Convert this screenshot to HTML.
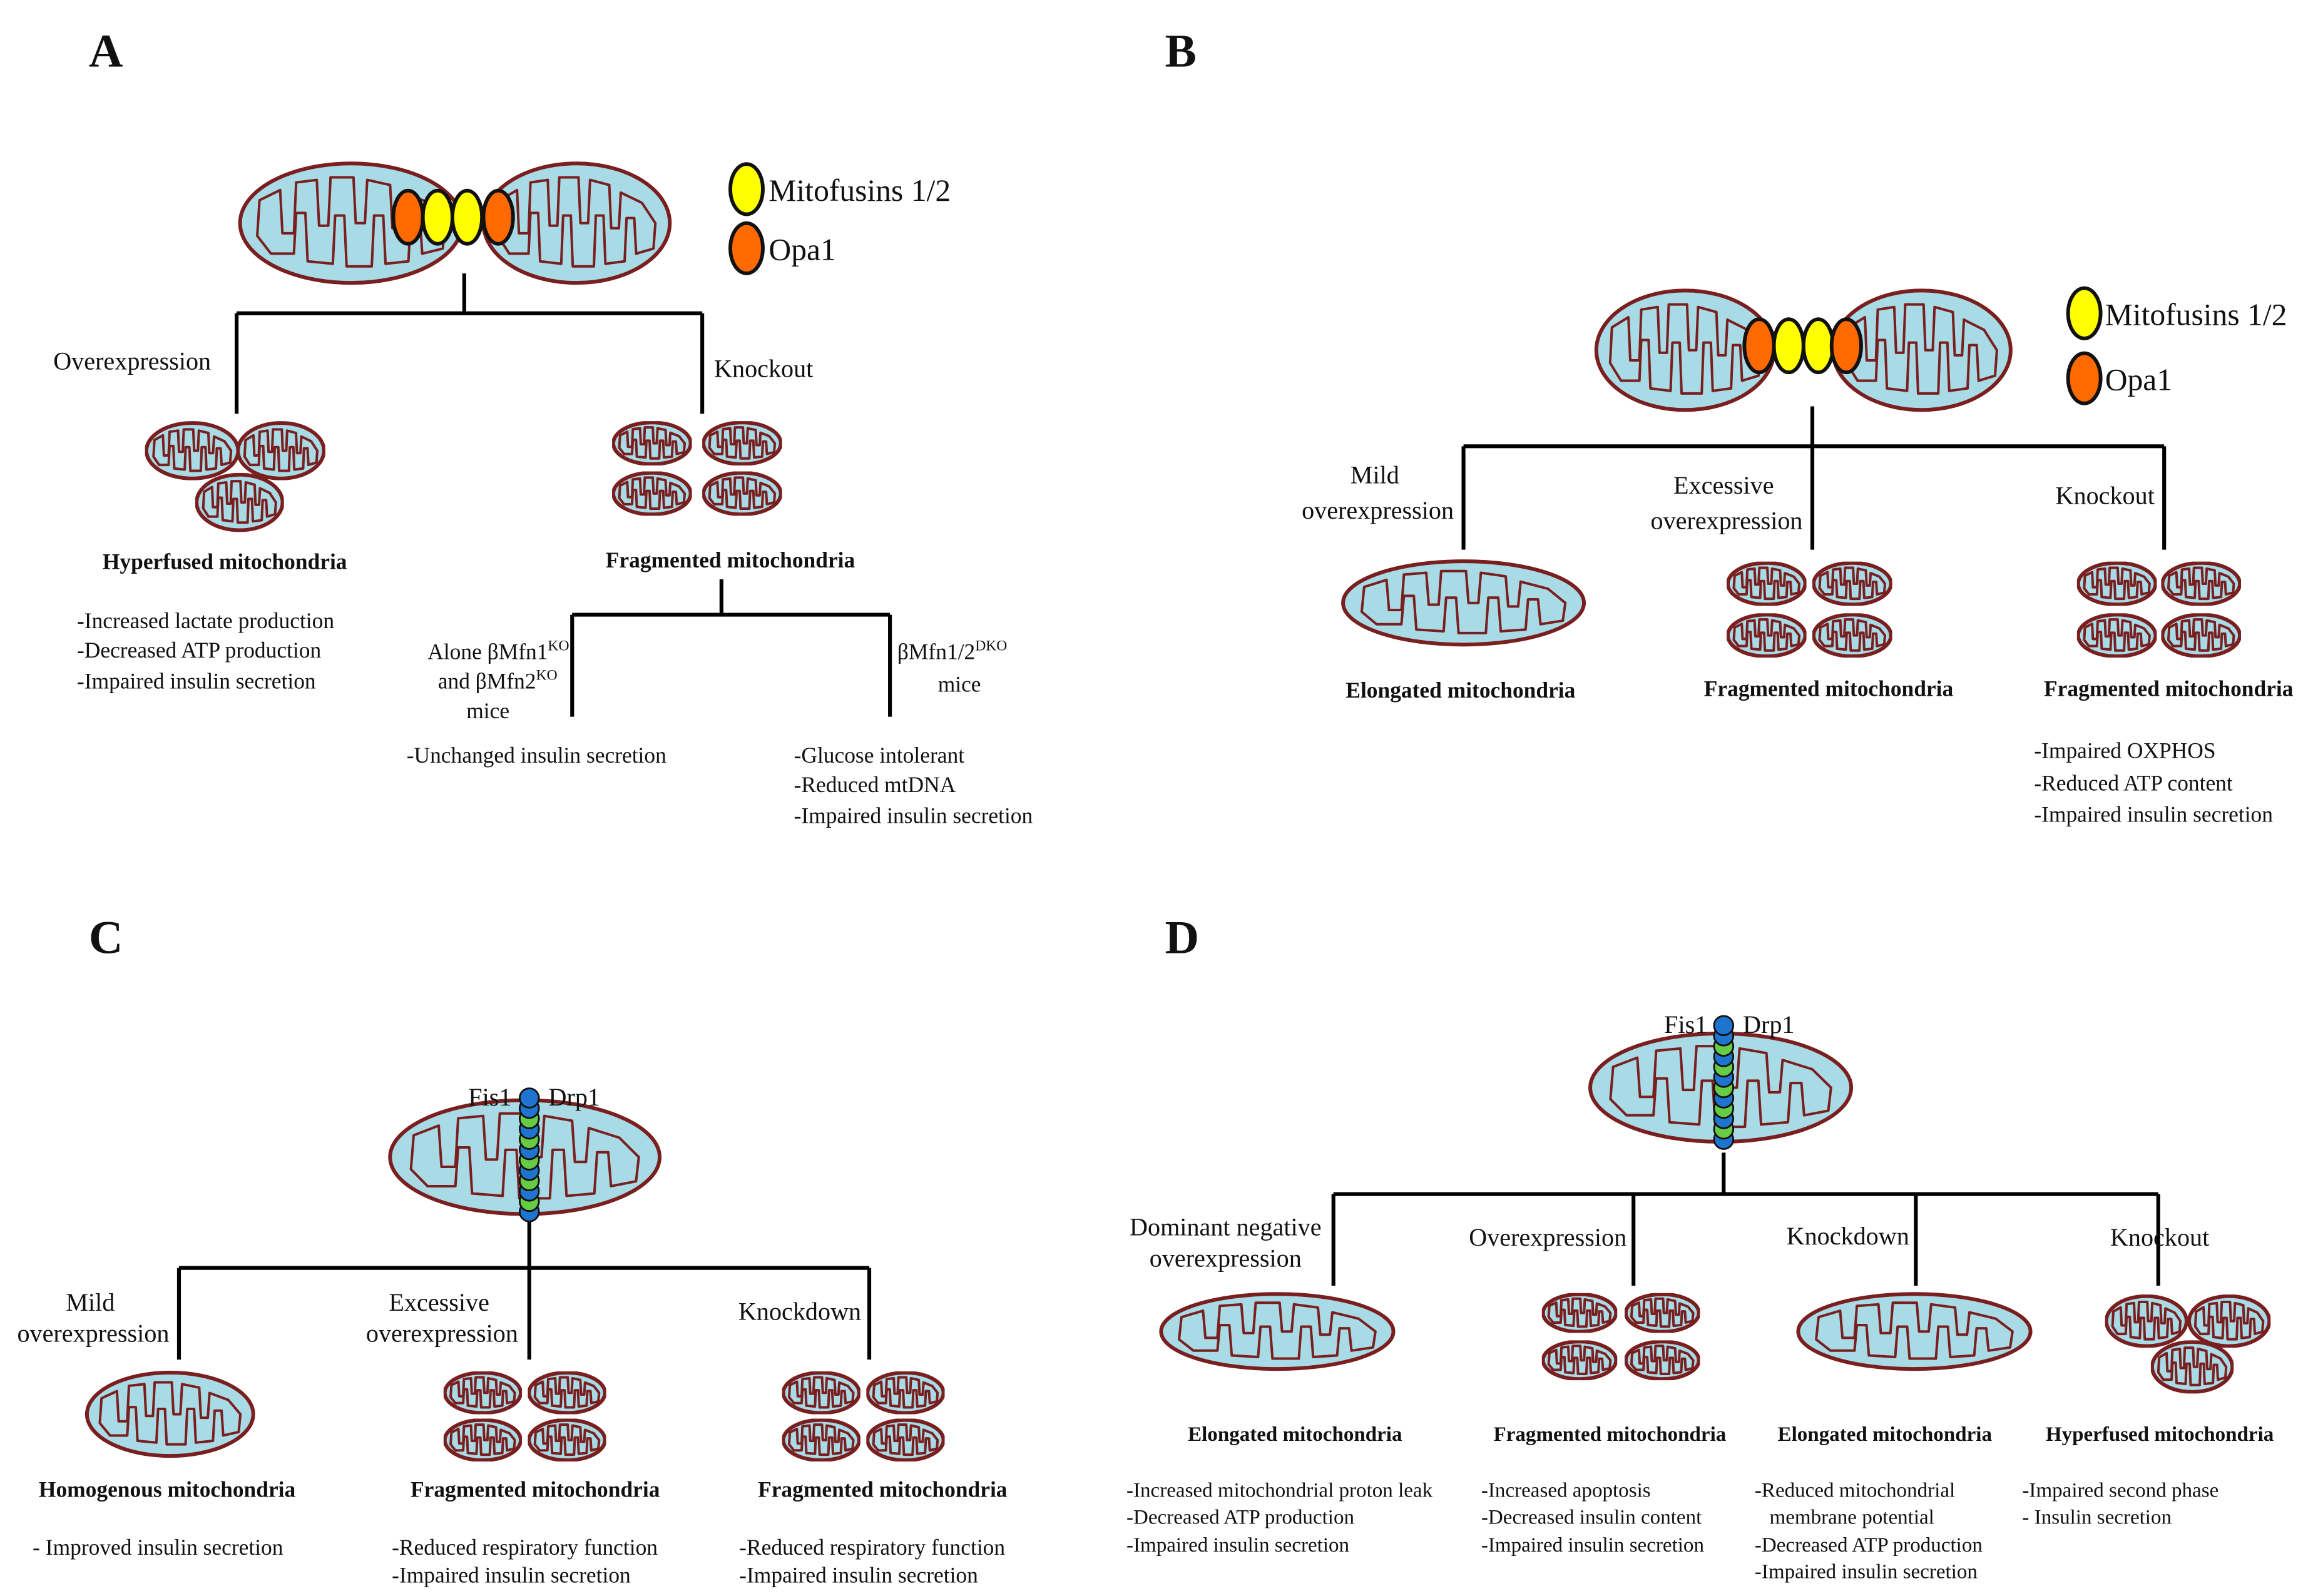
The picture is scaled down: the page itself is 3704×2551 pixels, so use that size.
<!DOCTYPE html>
<html><head><meta charset="utf-8"><style>
html,body{margin:0;padding:0;background:#fff}
svg{display:block}
text{font-family:"Liberation Serif",serif;fill:#111}
.b{font-weight:bold}
.L{font-weight:bold;font-size:32px}
.t{font-size:17px}
.s{font-size:15px}
.h{font-size:15px;font-weight:bold}
</style></head><body>
<svg width="3704" height="2551" viewBox="0 0 1568 1080" xmlns="http://www.w3.org/2000/svg" xml:space="preserve">
<defs>
<symbol id="m" viewBox="-100 -50 200 100" preserveAspectRatio="none">
<ellipse cx="0" cy="0" rx="97" ry="47" fill="#a8dbe6" stroke="#7a1f1f" stroke-width="6" vector-effect="non-scaling-stroke"/>
<path d="M-82,10 L-80,-18 L-62,-26 L-60,8 L-50,8 L-48,-32 L-30,-34 L-28,2 L-20,2 L-18,-36 L2,-36 L4,0 L12,0 L14,-34 L34,-30 L36,4 L44,4 L46,-24 L68,-16 L82,0 L80,20 L62,24 L60,-4 L52,-4 L50,30 L30,32 L28,-6 L20,-6 L18,34 L-4,34 L-6,-6 L-14,-6 L-16,32 L-38,30 L-40,-8 L-48,-8 L-50,24 L-70,24 Z" fill="none" stroke="#7a1f1f" stroke-width="4" stroke-linejoin="round" vector-effect="non-scaling-stroke"/>
</symbol>
</defs>
<g stroke="#000" stroke-width="2.6" fill="none">
<path d="M314,185V212M160,212H475M160,212V280M475,212V280"/>
<path d="M488,392V416M387,416H602M387,416V485M602,416V485"/>
<path d="M1226,275V302M990,302H1464M990,302V372M1226,302V372M1464,302V372"/>
<path d="M358,825V858M121,858H588M121,858V920M358,858V920M588,858V920"/>
<path d="M1166,780V808M902,808H1460M902,808V870M1105,808V870M1296,808V870M1460,808V870"/>
</g>

<text class="L" x="60" y="45">A</text>
<text class="L" x="788" y="45">B</text>
<text class="L" x="60" y="645">C</text>
<text class="L" x="788" y="645">D</text>

<!-- Panel A -->
<use href="#m" x="160" y="108" width="155" height="86"/>
<use href="#m" x="325" y="108" width="130" height="86"/>
<g stroke="#111" stroke-width="2.5">
<ellipse cx="276" cy="147" rx="10" ry="18" fill="#ff6a00"/>
<ellipse cx="296" cy="147" rx="10" ry="18" fill="#ffff00"/>
<ellipse cx="316" cy="147" rx="10" ry="18" fill="#ffff00"/>
<ellipse cx="337" cy="147" rx="10" ry="18" fill="#ff6a00"/>
<ellipse cx="505" cy="128" rx="11" ry="17" fill="#ffff00"/>
<ellipse cx="505" cy="168" rx="11" ry="17" fill="#ff6a00"/>
</g>
<text x="520" y="136" style="font-size:21px">Mitofusins 1/2</text>
<text x="520" y="176" style="font-size:21px">Opa1</text>
<text class="t" x="36" y="250">Overexpression</text>
<text class="t" x="483" y="255">Knockout</text>
<use href="#m" x="98" y="285" width="64" height="40"/>
<use href="#m" x="160" y="285" width="60" height="40"/>
<use href="#m" x="132" y="320" width="60" height="40"/>
<use href="#m" x="414" y="285" width="54" height="30"/>
<use href="#m" x="475" y="285" width="54" height="30"/>
<use href="#m" x="414" y="319" width="54" height="30"/>
<use href="#m" x="475" y="319" width="54" height="30"/>
<text class="h" x="152" y="385" text-anchor="middle">Hyperfused mitochondria</text>
<text class="h" x="494" y="384" text-anchor="middle">Fragmented mitochondria</text>
<text class="s" x="52" y="425">-Increased lactate production</text>
<text class="s" x="52" y="445">-Decreased ATP production</text>
<text class="s" x="52" y="466">-Impaired insulin secretion</text>
<text class="s" x="385" y="446" text-anchor="end">Alone βMfn1<tspan dy="-6" style="font-size:10px">KO</tspan></text>
<text class="s" x="377" y="466" text-anchor="end">and βMfn2<tspan dy="-6" style="font-size:10px">KO</tspan></text>
<text class="s" x="330" y="486" text-anchor="middle">mice</text>
<text class="s" x="607" y="446">βMfn1/2<tspan dy="-6" style="font-size:10px">DKO</tspan></text>
<text class="s" x="649" y="468" text-anchor="middle">mice</text>
<text class="s" x="275" y="516">-Unchanged insulin secretion</text>
<text class="s" x="537" y="516">-Glucose intolerant</text>
<text class="s" x="537" y="536">-Reduced mtDNA</text>
<text class="s" x="537" y="557">-Impaired insulin secretion</text>

<!-- Panel B -->
<use href="#m" x="1078" y="194" width="124" height="86"/>
<use href="#m" x="1238" y="194" width="124" height="86"/>
<g stroke="#111" stroke-width="2.5">
<ellipse cx="1190" cy="234" rx="10" ry="18" fill="#ff6a00"/>
<ellipse cx="1210" cy="234" rx="10" ry="18" fill="#ffff00"/>
<ellipse cx="1230" cy="234" rx="10" ry="18" fill="#ffff00"/>
<ellipse cx="1249" cy="234" rx="10" ry="18" fill="#ff6a00"/>
<ellipse cx="1410" cy="212" rx="11" ry="17" fill="#ffff00"/>
<ellipse cx="1410" cy="256" rx="11" ry="17" fill="#ff6a00"/>
</g>
<text x="1424" y="220" style="font-size:21px">Mitofusins 1/2</text>
<text x="1424" y="264" style="font-size:21px">Opa1</text>
<text class="t" x="930" y="327" text-anchor="middle">Mild</text>
<text class="t" x="932" y="351" text-anchor="middle">overexpression</text>
<text class="t" x="1166" y="334" text-anchor="middle">Excessive</text>
<text class="t" x="1168" y="358" text-anchor="middle">overexpression</text>
<text class="t" x="1424" y="341" text-anchor="middle">Knockout</text>
<use href="#m" x="906" y="378" width="168" height="60"/>
<use href="#m" x="1168" y="380" width="54" height="30"/>
<use href="#m" x="1226" y="380" width="54" height="30"/>
<use href="#m" x="1168" y="415" width="54" height="30"/>
<use href="#m" x="1226" y="415" width="54" height="30"/>
<use href="#m" x="1405" y="380" width="54" height="30"/>
<use href="#m" x="1462" y="380" width="54" height="30"/>
<use href="#m" x="1405" y="415" width="54" height="30"/>
<use href="#m" x="1462" y="415" width="54" height="30"/>
<text class="h" x="988" y="472" text-anchor="middle">Elongated mitochondria</text>
<text class="h" x="1237" y="471" text-anchor="middle">Fragmented mitochondria</text>
<text class="h" x="1467" y="471" text-anchor="middle">Fragmented  mitochondria</text>
<text class="s" x="1376" y="513">-Impaired OXPHOS</text>
<text class="s" x="1376" y="535">-Reduced ATP content</text>
<text class="s" x="1376" y="556">-Impaired insulin secretion</text>

<!-- Panel C -->
<use href="#m" x="261" y="742" width="188" height="82"/>
<g stroke="#111" stroke-width="1.2">
<circle cx="358" cy="820" r="6.5" fill="#1f74d0"/><circle cx="358" cy="813" r="6.5" fill="#66cc44"/>
<circle cx="358" cy="806" r="6.5" fill="#1f74d0"/><circle cx="358" cy="799" r="6.5" fill="#66cc44"/>
<circle cx="358" cy="792" r="6.5" fill="#1f74d0"/><circle cx="358" cy="785" r="6.5" fill="#66cc44"/>
<circle cx="358" cy="778" r="6.5" fill="#1f74d0"/><circle cx="358" cy="771" r="6.5" fill="#66cc44"/>
<circle cx="358" cy="764" r="6.5" fill="#1f74d0"/><circle cx="358" cy="757" r="6.5" fill="#66cc44"/>
<circle cx="358" cy="750" r="6.5" fill="#1f74d0"/><circle cx="358" cy="743" r="6.5" fill="#1f74d0"/>
</g>
<text class="t" x="346" y="748" text-anchor="end">Fis1</text>
<text class="t" x="371" y="748">Drp1</text>
<text class="t" x="61" y="887" text-anchor="middle">Mild</text>
<text class="t" x="63" y="908" text-anchor="middle">overexpression</text>
<text class="t" x="297" y="887" text-anchor="middle">Excessive</text>
<text class="t" x="299" y="908" text-anchor="middle">overexpression</text>
<text class="t" x="541" y="893" text-anchor="middle">Knockdown</text>
<use href="#m" x="57" y="927" width="116" height="60"/>
<use href="#m" x="300" y="928" width="53" height="29"/>
<use href="#m" x="357" y="928" width="53" height="29"/>
<use href="#m" x="300" y="960" width="53" height="29"/>
<use href="#m" x="357" y="960" width="53" height="29"/>
<use href="#m" x="529" y="928" width="53" height="29"/>
<use href="#m" x="586" y="928" width="53" height="29"/>
<use href="#m" x="529" y="960" width="53" height="29"/>
<use href="#m" x="586" y="960" width="53" height="29"/>
<text class="h" x="113" y="1013" text-anchor="middle">Homogenous mitochondria</text>
<text class="h" x="362" y="1013" text-anchor="middle">Fragmented mitochondria</text>
<text class="h" x="597" y="1013" text-anchor="middle">Fragmented mitochondria</text>
<text class="s" x="22" y="1052">- Improved insulin secretion</text>
<text class="s" x="265" y="1052">-Reduced respiratory function</text>
<text class="s" x="265" y="1071">-Impaired insulin secretion</text>
<text class="s" x="500" y="1052">-Reduced respiratory function</text>
<text class="s" x="500" y="1071">-Impaired insulin secretion</text>

<!-- Panel D -->
<use href="#m" x="1073" y="697" width="182" height="78"/>
<g stroke="#111" stroke-width="1.2">
<circle cx="1166" cy="771" r="6.5" fill="#1f74d0"/><circle cx="1166" cy="764" r="6.5" fill="#66cc44"/>
<circle cx="1166" cy="757" r="6.5" fill="#1f74d0"/><circle cx="1166" cy="750" r="6.5" fill="#66cc44"/>
<circle cx="1166" cy="743" r="6.5" fill="#1f74d0"/><circle cx="1166" cy="736" r="6.5" fill="#66cc44"/>
<circle cx="1166" cy="729" r="6.5" fill="#1f74d0"/><circle cx="1166" cy="722" r="6.5" fill="#66cc44"/>
<circle cx="1166" cy="715" r="6.5" fill="#1f74d0"/><circle cx="1166" cy="708" r="6.5" fill="#66cc44"/>
<circle cx="1166" cy="701" r="6.5" fill="#1f74d0"/><circle cx="1166" cy="694" r="6.5" fill="#1f74d0"/>
</g>
<text class="t" x="1155" y="699" text-anchor="end">Fis1</text>
<text class="t" x="1179" y="699">Drp1</text>
<text class="t" x="829" y="836" text-anchor="middle">Dominant negative</text>
<text class="t" x="829" y="857" text-anchor="middle">overexpression</text>
<text class="t" x="1047" y="843" text-anchor="middle">Overexpression</text>
<text class="t" x="1250" y="842" text-anchor="middle">Knockdown</text>
<text class="t" x="1461" y="843" text-anchor="middle">Knockout</text>
<use href="#m" x="783" y="874" width="162" height="54"/>
<use href="#m" x="1043" y="875" width="51" height="27"/>
<use href="#m" x="1099" y="875" width="51" height="27"/>
<use href="#m" x="1043" y="907" width="51" height="27"/>
<use href="#m" x="1099" y="907" width="51" height="27"/>
<use href="#m" x="1214" y="874" width="162" height="54"/>
<use href="#m" x="1424" y="876" width="56" height="36"/>
<use href="#m" x="1480" y="876" width="56" height="36"/>
<use href="#m" x="1455" y="907" width="56" height="36"/>
<text class="h" x="876" y="975" text-anchor="middle" style="font-size:14px">Elongated mitochondria</text>
<text class="h" x="1089" y="975" text-anchor="middle" style="font-size:14px">Fragmented mitochondria</text>
<text class="h" x="1275" y="975" text-anchor="middle" style="font-size:14px">Elongated mitochondria</text>
<text class="h" x="1461" y="975" text-anchor="middle" style="font-size:14px">Hyperfused mitochondria</text>
<g>
<text class="s" style="font-size:14px" x="762" y="1013">-Increased mitochondrial proton leak</text>
<text class="s" style="font-size:14px" x="762" y="1031">-Decreased ATP production</text>
<text class="s" style="font-size:14px" x="762" y="1050">-Impaired insulin secretion</text>
<text class="s" style="font-size:14px" x="1002" y="1013">-Increased apoptosis</text>
<text class="s" style="font-size:14px" x="1002" y="1031">-Decreased insulin content</text>
<text class="s" style="font-size:14px" x="1002" y="1050">-Impaired insulin secretion</text>
<text class="s" style="font-size:14px" x="1187" y="1013">-Reduced  mitochondrial</text>
<text class="s" style="font-size:14px" x="1197" y="1031">membrane potential</text>
<text class="s" style="font-size:14px" x="1187" y="1050">-Decreased ATP production</text>
<text class="s" style="font-size:14px" x="1187" y="1068">-Impaired insulin secretion</text>
<text class="s" style="font-size:14px" x="1368" y="1013">-Impaired  second phase</text>
<text class="s" style="font-size:14px" x="1368" y="1031"> - Insulin secretion</text>
</g>
</svg>
</body></html>
